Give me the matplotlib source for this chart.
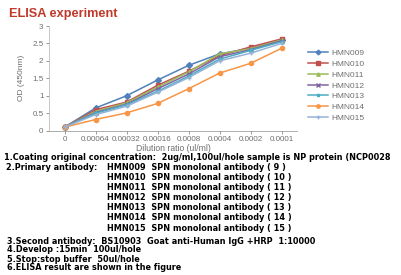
import numpy as np
import matplotlib
matplotlib.use('Agg')
import matplotlib.pyplot as plt

plt.rcParams['font.family'] = ['Liberation Sans', 'DejaVu Sans']

dilution = ['0', '0.00064', '0.00032', '0.00016', '0.0008', '0.0004', '0.0002', '0.0001']
names = ['HMN009', 'HMN010', 'HMN011', 'HMN012', 'HMN013', 'HMN014', 'HMN015']
hmn009 = [0.10, 0.65, 1.00, 1.45, 1.87, 2.20, 2.36, 2.60]
hmn010 = [0.10, 0.60, 0.82, 1.30, 1.70, 2.15, 2.40, 2.63]
hmn011 = [0.10, 0.55, 0.80, 1.25, 1.68, 2.20, 2.35, 2.60]
hmn012 = [0.10, 0.52, 0.76, 1.20, 1.62, 2.12, 2.32, 2.58]
hmn013 = [0.10, 0.50, 0.74, 1.13, 1.56, 2.05, 2.30, 2.55]
hmn014 = [0.10, 0.32, 0.51, 0.78, 1.20, 1.65, 1.93, 2.36]
hmn015 = [0.10, 0.46, 0.70, 1.10, 1.52, 2.00, 2.22, 2.50]

notes_left = [
    '1.Coating original concentration:  2ug/ml,100ul/hole sample is NP protein (NCP0028',
    '2.Primary antibody:',
]
primary = ['HMN009  SPN monolonal antibody ( 9 )',
           'HMN010  SPN monolonal antibody ( 10 )',
           'HMN011  SPN monolonal antibody ( 11 )',
           'HMN012  SPN monolonal antibody ( 12 )',
           'HMN013  SPN monolonal antibody ( 13 )',
           'HMN014  SPN monolonal antibody ( 14 )',
           'HMN015  SPN monolonal antibody ( 15 )']
notes_bottom = ['3.Second antibody:  BS10903  Goat anti-Human IgG +HRP  1:10000',
                '4.Develop :15min  100ul/hole',
                '5.Stop:stop buffer  50ul/hole',
                '6.ELISA result are shown in the figure']

series = [hmn009, hmn010, hmn011, hmn012, hmn013, hmn014, hmn015]
colors = ['#4F81BD', '#C0504D', '#9BBB59', '#8064A2', '#4BACC6', '#F79646', '#95B3D7']
markers = ['D', 's', '^', 'x', '*', 'o', '+']

W, H = 401, 275
fig = plt.figure(figsize=(W / 100, H / 100), dpi=100)
ax = fig.add_axes([49 / W, 1 - 130.7 / H, 248 / W, (130.7 - 26) / H])

x = np.arange(len(dilution))
for vals, name, c, m in zip(series, names, colors, markers):
    ax.plot(x, vals, color=c, marker=m, markersize=3, linewidth=1.1, label=name)

ax.set_xlim(-0.5, len(dilution) - 0.5)
ax.set_ylim(0, 3)
ax.set_yticks(np.arange(0, 3.01, 0.5))
ax.set_yticklabels(['0', '0.5', '1', '1.5', '2', '2.5', '3'])
ax.set_xticks(x)
ax.set_xticklabels(dilution)
ax.tick_params(axis='both', labelsize=5.8, colors='#6E6E6E', length=2, width=0.5, pad=2)
for s in ['top', 'right']:
    ax.spines[s].set_visible(False)
ax.spines['left'].set_color('#BFBFBF')
ax.spines['bottom'].set_color('#A0A0A0')
ax.spines['left'].set_linewidth(0.6)
ax.spines['bottom'].set_linewidth(0.6)
ax.set_ylabel('OD (450nm)', fontsize=6, color='#6E6E6E', labelpad=5)
ax.set_xlabel('Dilution ratio (ul/ml)', fontsize=6.2, color='#6E6E6E', labelpad=0.5)

ax.legend(loc='upper left', bbox_to_anchor=(256 / 248, 0.81), frameon=False,
          fontsize=6, labelcolor='#6E6E6E', handlelength=2.4, handletextpad=0.35,
          labelspacing=0.36, borderaxespad=0, markerscale=0.8)

fig.text(9 / W, 1 - 14 / H, 'ELISA experiment', fontsize=9.2, fontweight='bold',
         color='#C0392B', va='center')

fs = 5.9
nf = 'DejaVu Sans'
fig.text(4 / W, 1 - 157 / H, notes_left[0], fontsize=fs, fontweight='bold', va='center', family=nf)
fig.text(6 / W, 1 - 167 / H, notes_left[1], fontsize=fs, fontweight='bold', va='center', family=nf)
for i, t in enumerate(primary):
    fig.text(107 / W, 1 - (167 + i * 10.2) / H, t, fontsize=fs, fontweight='bold',
             va='center', family=nf)
for i, t in enumerate(notes_bottom):
    fig.text(7 / W, 1 - (241 + i * 9) / H, t, fontsize=fs, fontweight='bold',
             va='center', family=nf)

fig.savefig('out.png', dpi=100)
